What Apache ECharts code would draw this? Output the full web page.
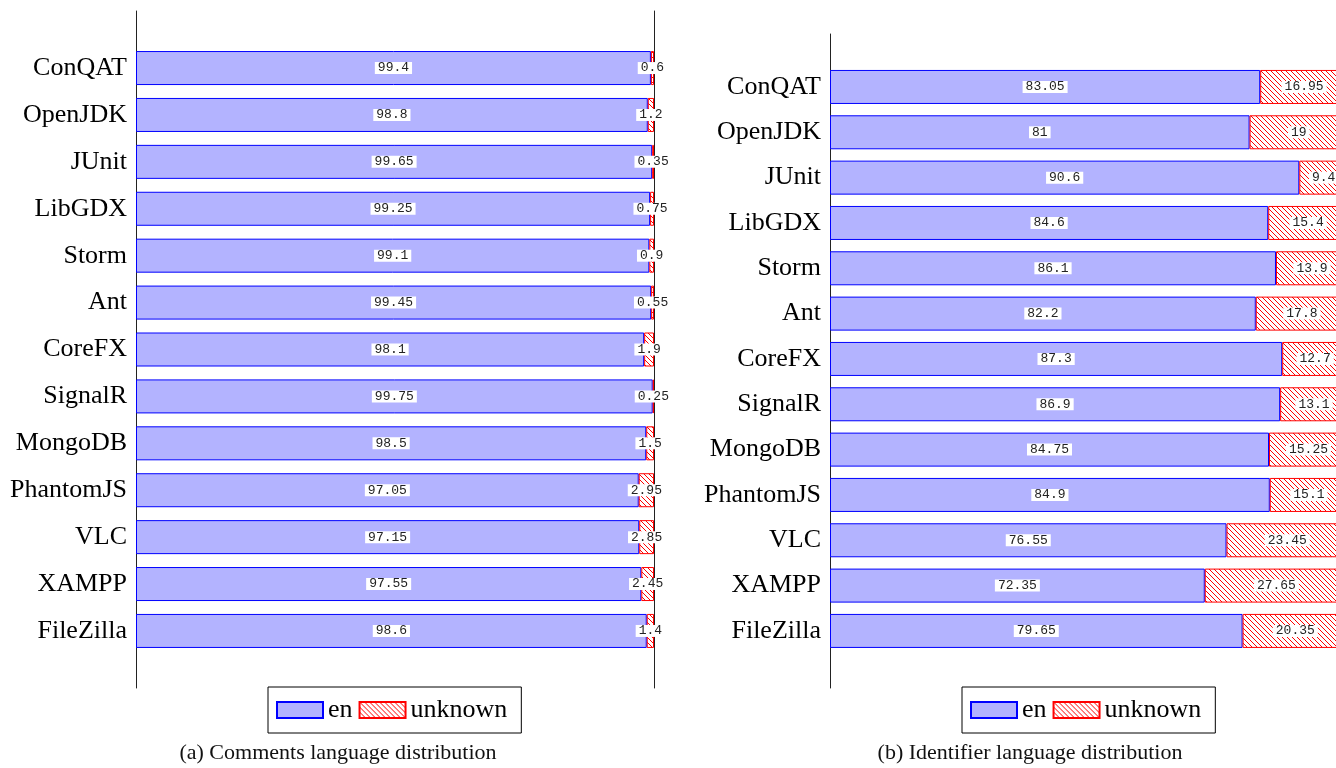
<!DOCTYPE html>
<html><head><meta charset="utf-8">
<script src="https://cdn.jsdelivr.net/npm/echarts@6/dist/echarts.min.js"></script>
<style>html,body{margin:0;padding:0;background:#fff;overflow:hidden;width:1336px;height:768px}#c{width:1352px;height:768px}</style>
</head><body><div id="c"></div>
<script>
const categories = ['ConQAT','OpenJDK','JUnit','LibGDX','Storm','Ant','CoreFX','SignalR','MongoDB','PhantomJS','VLC','XAMPP','FileZilla'];
const commentsEn = [99.4, 98.8, 99.65, 99.25, 99.1, 99.45, 98.1, 99.75, 98.5, 97.05, 97.15, 97.55, 98.6];
const commentsUnknown = [0.6, 1.2, 0.35, 0.75, 0.9, 0.55, 1.9, 0.25, 1.5, 2.95, 2.85, 2.45, 1.4];
const identEn = [83.05, 81, 90.6, 84.6, 86.1, 82.2, 87.3, 86.9, 84.75, 84.9, 76.55, 72.35, 79.65];
const identUnknown = [16.95, 19, 9.4, 15.4, 13.9, 17.8, 12.7, 13.1, 15.25, 15.1, 23.45, 27.65, 20.35];
const captions = ['(a) Comments language distribution', '(b) Identifier language distribution'];

function hatch() {
  const s = 5, cv = document.createElement('canvas');
  cv.width = s; cv.height = s;
  const g = cv.getContext('2d');
  g.fillStyle = '#fff'; g.fillRect(0, 0, s, s);
  g.strokeStyle = '#ff0000'; g.lineWidth = 1;
  g.beginPath();
  g.moveTo(-1, -1); g.lineTo(s + 1, s + 1);
  g.moveTo(-1, s - 1); g.lineTo(1, s + 1);
  g.moveTo(s - 1, -1); g.lineTo(s + 1, 1);
  g.stroke();
  return cv;
}
const pattern = { image: hatch(), repeat: 'repeat' };
const serif = 'Liberation Serif';
const labelStyle = {
  show: true, position: 'inside', fontFamily: 'Liberation Mono', fontSize: 13, lineHeight: 12,
  color: '#222', backgroundColor: '#fff', padding: [0, 3]
};
const captionStyle = { fontFamily: serif, fontSize: 22, fontWeight: 'normal', color: '#111' };
const legendBase = {
  icon: 'rect', itemWidth: 46, itemHeight: 16, itemGap: 6, top: 687,
  borderColor: '#000', borderWidth: 1, padding: [10, 14, 10, 8],
  textStyle: { fontFamily: serif, fontSize: 26, color: '#000' }
};
const frameAxis = (grid, pos) => ({
  gridIndex: grid, type: 'value', min: 0, max: 1, position: pos,
  axisLine: { show: true, lineStyle: { color: '#222', width: 1 } },
  axisTick: { show: false }, axisLabel: { show: false }, splitLine: { show: false }
});
const catAxis = (grid) => ({
  gridIndex: grid, type: 'category', data: categories, inverse: true,
  axisLine: { show: false }, axisTick: { show: false },
  axisLabel: { fontFamily: serif, fontSize: 26, color: '#000', margin: 9 }
});

const chart = echarts.init(document.getElementById('c'), null, { renderer: 'canvas' });
const option = {
  animation: false,
  backgroundColor: '#fff',
  title: [
    { text: captions[0], left: 338, top: 742, textAlign: 'center', padding: 0, textStyle: captionStyle },
    { text: captions[1], left: 1030, top: 742, textAlign: 'center', padding: 0, textStyle: captionStyle }
  ],
  legend: [
    Object.assign({ seriesIndex: [0, 1], data: ['en', 'unknown'], left: 268 }, legendBase),
    Object.assign({ seriesIndex: [2, 3], data: ['en', 'unknown'], left: 962 }, legendBase)
  ],
  grid: [
    { left: 136, top: 44.6, width: 518, height: 609.8 },
    { left: 830, top: 64.3, width: 518, height: 589.3 },
    { left: 136, top: 11, width: 518, height: 677 },
    { left: 830, top: 34, width: 518, height: 654 }
  ],
  xAxis: [0, 1, 2, 3].map(i => ({ gridIndex: i, type: 'value', min: 0, max: 100, show: false })),
  yAxis: [catAxis(0), catAxis(1), frameAxis(2, 'left'), frameAxis(2, 'right'), frameAxis(3, 'left')],
  series: [
    { name: 'en', type: 'bar', stack: 'a', xAxisIndex: 0, yAxisIndex: 0, data: commentsEn, barWidth: 34,
      itemStyle: { color: '#b3b3ff', borderColor: '#0000ff', borderWidth: 1 }, label: labelStyle },
    { name: 'unknown', type: 'bar', stack: 'a', xAxisIndex: 0, yAxisIndex: 0, data: commentsUnknown, barWidth: 34,
      itemStyle: { color: pattern, borderColor: '#ff0000', borderWidth: 1 }, label: labelStyle },
    { name: 'en', type: 'bar', stack: 'b', xAxisIndex: 1, yAxisIndex: 1, data: identEn, barWidth: 34,
      itemStyle: { color: '#b3b3ff', borderColor: '#0000ff', borderWidth: 1 }, label: labelStyle },
    { name: 'unknown', type: 'bar', stack: 'b', xAxisIndex: 1, yAxisIndex: 1, data: identUnknown, barWidth: 34,
      itemStyle: { color: pattern, borderColor: '#ff0000', borderWidth: 1 }, label: labelStyle }
  ]
};
chart.setOption(option);
</script></body></html>
